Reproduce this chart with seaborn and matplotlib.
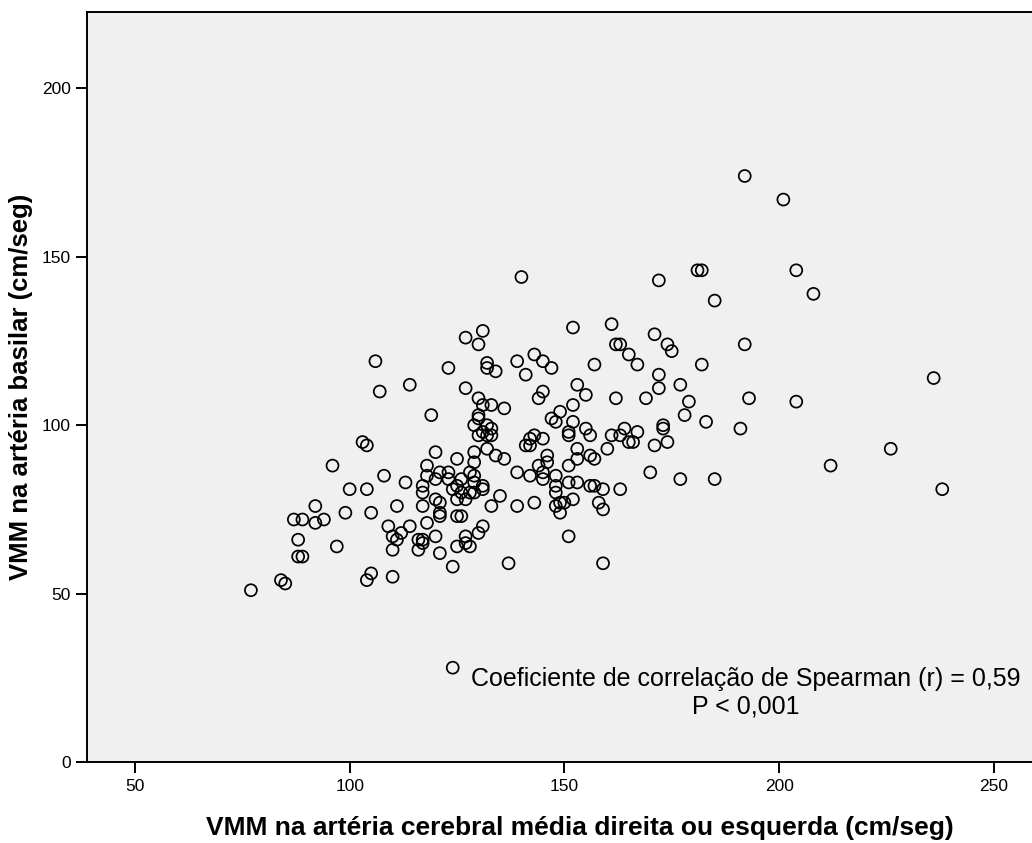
import matplotlib
matplotlib.use("Agg")
import matplotlib.pyplot as plt
import seaborn as sns
import pandas as pd

# Mean velocity (cm/s): middle cerebral artery (x) vs basilar artery (y)
vmm_acm = [
    106, 107, 114, 119, 103, 104, 96, 108, 113, 100, 104, 117, 117, 118, 118,
    92, 111, 117, 87, 89, 92, 94, 99, 105, 109, 112, 114, 110, 111, 118,
    116, 117, 117, 116, 110, 88, 97, 88, 89, 105, 104, 110, 84, 85, 77,
    131, 127, 130, 152, 161, 162, 163, 123, 132, 132, 134, 139, 143, 145, 147,
    141, 157, 127, 130, 131, 133, 136, 145, 144, 153, 155, 162, 130, 130, 129,
    132, 133, 130, 131, 132, 133, 132, 134, 136, 129, 129, 125, 120, 121, 123,
    120, 123, 126, 128, 129, 129, 125, 124, 126, 128, 129, 131, 131, 120, 121,
    125, 127, 135, 133, 139, 143, 121, 121, 125, 126, 131, 130, 120, 127, 127,
    128, 125, 121, 124, 137, 151, 159, 143, 142, 142, 141, 145, 149, 147, 148,
    152, 152, 151, 151, 155, 156, 161, 163, 153, 153, 146, 146, 144, 151, 156,
    157, 160, 139, 142, 145, 145, 148, 148, 148, 151, 153, 156, 157, 159, 163,
    148, 149, 150, 149, 152, 158, 159,
    172, 181, 182, 185, 204, 208, 171, 165, 167, 174, 175, 192, 182, 172, 172,
    177, 169, 179, 193, 204, 178, 183, 191, 173, 173, 164, 167, 165, 166, 171,
    174, 170, 177, 185, 212,
    201, 192, 140, 236, 226, 238, 124,
]
vmm_basilar = [
    119, 110, 112, 103, 95, 94, 88, 85, 83, 81, 81, 82, 80, 88, 85,
    76, 76, 76, 72, 72, 71, 72, 74, 74, 70, 68, 70, 67, 66, 71,
    66, 66, 65, 63, 63, 66, 64, 61, 61, 56, 54, 55, 54, 53, 51,
    128, 126, 124, 129, 130, 124, 124, 117, 118.5, 117, 116, 119, 121, 119, 117,
    115, 118, 111, 108, 106, 106, 105, 110, 108, 112, 109, 108, 103, 102, 100,
    100, 99, 97, 98, 97, 97, 93, 91, 90, 92, 89, 90, 92, 86, 86,
    84, 84, 84, 86, 85, 83, 82, 81, 80, 80, 80, 82, 81, 78, 77,
    78, 78, 79, 76, 76, 77, 74, 73, 73, 73, 70, 68, 67, 67, 65,
    64, 64, 62, 58, 59, 67, 59, 97, 96, 94, 94, 96, 104, 102, 101,
    106, 101, 98, 97, 99, 97, 97, 97, 93, 90, 91, 89, 88, 88, 91,
    90, 93, 86, 85, 86, 84, 85, 82, 80, 83, 83, 82, 82, 81, 81,
    76, 77, 77, 74, 78, 77, 75,
    143, 146, 146, 137, 146, 139, 127, 121, 118, 124, 122, 124, 118, 115, 111,
    112, 108, 107, 108, 107, 103, 101, 99, 100, 99, 99, 98, 95, 95, 94,
    95, 86, 84, 84, 88,
    167, 174, 144, 114, 93, 81, 28,
]

x_label = "VMM na artéria cerebral média direita ou esquerda (cm/seg)"
y_label = "VMM na artéria basilar (cm/seg)"
annotation = "Coeficiente de correlação de Spearman (r) = 0,59\nP < 0,001"
x_ticks = [50, 100, 150, 200, 250]
y_ticks = [0, 50, 100, 150, 200]

df = pd.DataFrame({"acm": vmm_acm, "basilar": vmm_basilar})

sns.set_style("ticks")
plt.rcParams["font.family"] = ["Liberation Sans", "DejaVu Sans"]

fig = plt.figure(figsize=(10.32, 8.43), dpi=100)
ax = fig.add_axes([0.0846, 0.0961, 0.9154, 0.8893])
ax.set_facecolor("#f0f0f0")

sns.scatterplot(
    data=df, x="acm", y="basilar", ax=ax,
    marker="o", s=74, facecolors="none", edgecolor="black", linewidth=1.25,
)

ax.set_xlim(38.9, 258.9)
ax.set_ylim(0, 222.6)
ax.set_xticks(x_ticks)
ax.set_yticks(y_ticks)
ax.tick_params(axis="both", direction="out", length=8, width=1.4,
               color="black", labelsize=12.5, labelcolor="black", pad=4)

for side in ("left", "bottom", "top"):
    ax.spines[side].set_visible(True)
    ax.spines[side].set_color("black")
    ax.spines[side].set_linewidth(1.4)
ax.spines["right"].set_visible(False)

ax.set_xlabel(x_label, fontsize=19, fontweight="bold", color="black")
ax.set_ylabel(y_label, fontsize=18.5, fontweight="bold", color="black")
ax.xaxis.set_label_coords(0.5215, -0.072)
ax.yaxis.set_label_coords(-0.057, 0.5)

ax.text(0.697, 0.092, annotation, transform=ax.transAxes,
        ha="center", va="center", multialignment="center",
        fontsize=18, color="black")

fig.savefig("out.png", dpi=100, facecolor="white")
